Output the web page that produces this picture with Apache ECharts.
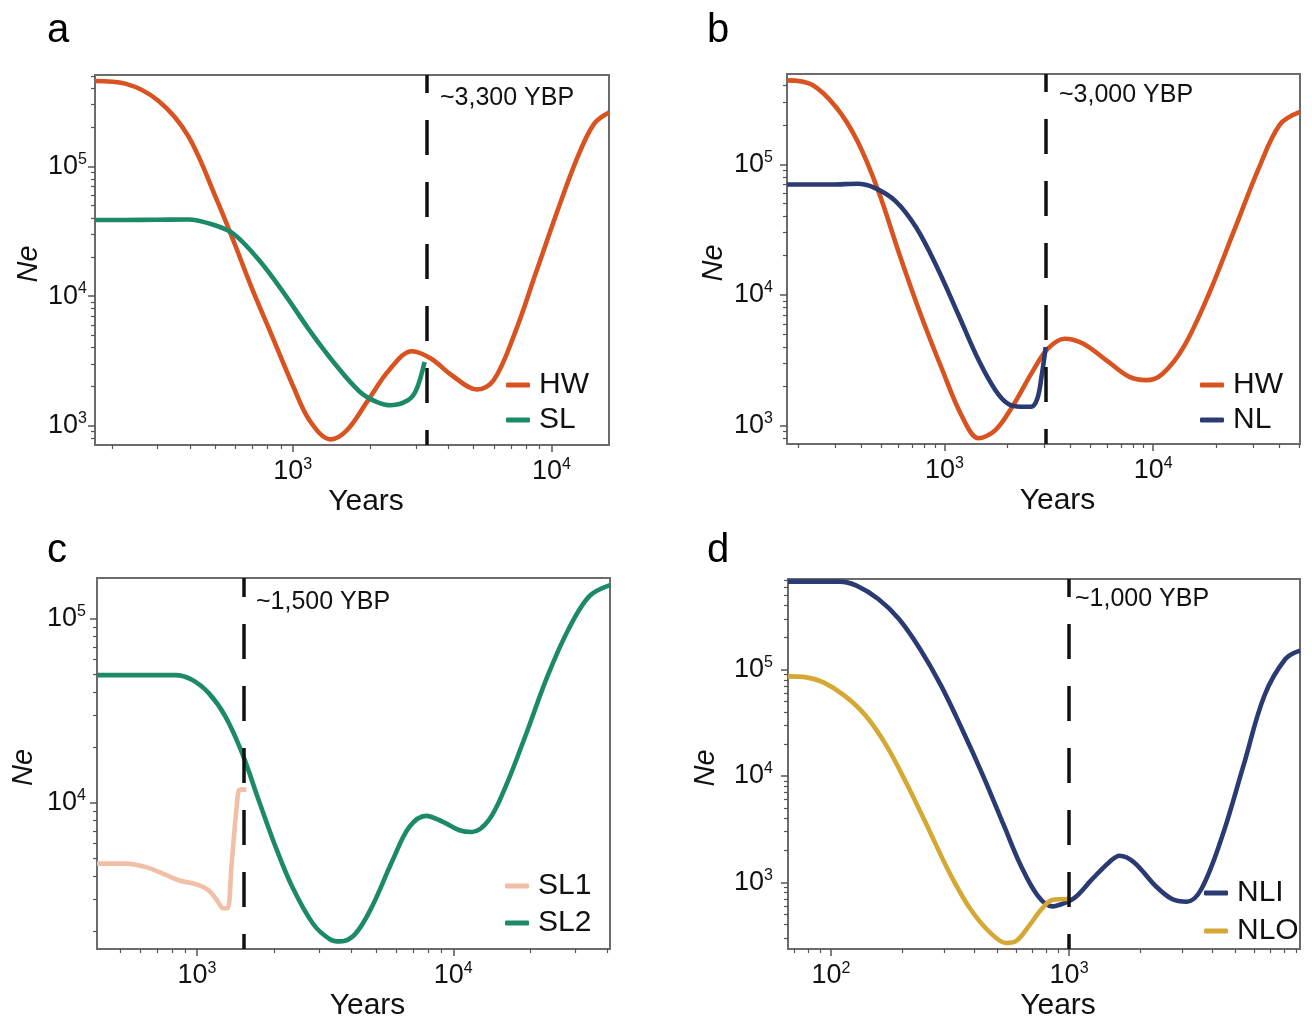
<!DOCTYPE html>
<html>
<head>
<meta charset="utf-8">
<script src="https://cdn.jsdelivr.net/npm/echarts@6/dist/echarts.min.js"></script>
<style>
  html, body { margin: 0; padding: 0; background: #fff; }
  #chart { width: 1312px; height: 1022px; }
</style>
</head>
<body>
<div id="chart"></div>
<script>
// [years, Ne]
const hwA = [[172, 4.56e5], [225, 4.35e5], [303, 3.2e5], [394, 1.72e5], [511, 5.4e4], [593, 2.6e4],
  [689, 1.2e4], [829, 5000], [1000, 2050], [1161, 1100], [1400, 785], [1623, 927], [1954, 1570],
  [2356, 2680], [2891, 3750], [3420, 3300], [4120, 2450], [5155, 1900], [5980, 2240], [7210, 5130],
  [8690, 1.49e4], [10450, 4.3e4], [12600, 1.17e5], [14600, 2.12e5], [16700, 2.6e5]]
const slA = [[172, 3.86e4], [225, 3.86e4], [300, 3.88e4], [394, 3.9e4], [493, 3.55e4], [593, 3.0e4],
  [743, 1.88e4], [929, 1.04e4], [1161, 5440], [1452, 3020], [1816, 1830], [2107, 1530], [2400, 1440],
  [2786, 1570], [3000, 1880], [3234, 3100]]

const hwB = [[176, 4.4e5], [231, 4.08e5], [304, 2.71e5], [383, 1.5e5], [482, 6.25e4], [608, 2.05e4],
  [766, 7200], [964, 2800], [1214, 1170], [1459, 797], [1754, 920], [2113, 1390], [2661, 2640],
  [3127, 3870], [3760, 4610], [4627, 4220], [6104, 3060], [7690, 2350], [9250, 2220], [11100, 2490],
  [14000, 3990], [18500, 1.02e4], [24400, 3.1e4], [32100, 9.4e4], [40500, 2.02e5], [50500, 2.52e5]]
const nlB = [[176, 7.0e4], [290, 7.0e4], [383, 7.1e4], [460, 6.63e4], [581, 5.25e4], [731, 3.29e4],
  [921, 1.63e4], [1159, 7200], [1459, 3150], [1754, 1860], [2018, 1460], [2317, 1390], [2600, 1390],
  [2786, 1610], [2917, 2360], [3055, 3990]]

const sl1C = [[407, 4680], [524, 4680], [632, 4480], [763, 4040], [854, 3790], [993, 3610], [1111, 3350],
  [1198, 2950], [1267, 2680], [1315, 2680], [1365, 4680], [1445, 1.12e4], [1472, 1.18e4], [1557, 1.18e4]]
const sl2C = [[407, 4.93e4], [822, 4.93e4], [955, 4.66e4], [1111, 3.94e4], [1291, 2.94e4], [1500, 1.86e4],
  [1742, 1.03e4], [2027, 5760], [2355, 3490], [2840, 2200], [3300, 1820], [3628, 1770], [4140, 1940],
  [4810, 2720], [5800, 4880], [6740, 7400], [7830, 8500], [9110, 7890], [10580, 7100], [11830, 6950],
  [13760, 8050], [15990, 1.22e4], [19280, 2.38e4], [23300, 4.85e4], [28100, 8.7e4], [33900, 1.32e5],
  [40900, 1.52e5]]

const nliD = [[66, 6.73e5], [109, 6.73e5], [128, 6.17e5], [158, 4.62e5], [193, 3.0e5], [237, 1.56e5],
  [290, 7.08e4], [355, 2.77e4], [435, 1.01e4], [533, 3410], [627, 1440], [738, 750], [850, 594],
  [960, 640], [1062, 723], [1250, 1070], [1471, 1540], [1630, 1780], [1877, 1540], [2300, 931],
  [2706, 697], [3119, 657], [3595, 865], [4406, 2750], [5400, 1.25e4], [6610, 5.69e4], [8100, 1.26e5],
  [9330, 1.51e5]]
const nloD = [[66, 8.65e4], [79, 8.47e4], [93, 7.6e4], [114, 5.7e4], [140, 3.69e4], [171, 1.93e4],
  [210, 8100], [257, 3180], [314, 1240], [385, 561], [472, 327], [544, 269], [602, 282], [680, 391],
  [767, 561], [850, 682], [1000, 697]]

const panelLetters = ['a', 'b', 'c', 'd']
const splitYears = [3300, 3050, 1528, 1000]
const splitLabels = ['~3,300 YBP', '~3,000 YBP', '~1,500 YBP', '~1,000 YBP']
const xRanges = [[172, 16700], [176, 50500], [407, 40900], [66, 9330]]
const yRanges = [[710, 5.07e5], [720, 4.92e5], [1610, 1.66e5], [236, 7.13e5]]

const FONT = '"Liberation Sans", Arial, sans-serif'
const colors = {
  HW: '#d8531f', SL: '#1c8a68', NL: '#2a3a72',
  SL1: '#f1bea6', SL2: '#1c8a68', NLI: '#2a3a72', NLO: '#d5a733'
}

const panels = [
  { grid: { left: 95, top: 75, width: 514, height: 370 }, lines: [['HW', hwA], ['SL', slA]],
    labelMargin: 8, neGap: 52, yearsGap: 37, text: [440, 101], letter: [47, 34],
    legend: { left: 506, top: 369, gap: 3 } },
  { grid: { left: 787, top: 74, width: 513, height: 370 }, lines: [['HW', hwB], ['NL', nlB]],
    labelMargin: 14, neGap: 59, yearsGap: 37, text: [1059, 98], letter: [707, 34],
    legend: { left: 1200, top: 369, gap: 3 } },
  { grid: { left: 97, top: 578, width: 513, height: 371 }, lines: [['SL1', sl1C], ['SL2', sl2C]],
    labelMargin: 11, neGap: 59, yearsGap: 41, text: [256, 605], letter: [47, 554],
    legend: { left: 505, top: 870, gap: 5 } },
  { grid: { left: 788, top: 579, width: 512, height: 370 }, lines: [['NLI', nliD], ['NLO', nloD]],
    labelMargin: 15, neGap: 68, yearsGap: 41, text: [1075, 602], letter: [707, 554],
    legend: { left: 1204, top: 877, gap: 6 } }
]

const majorTicks = (lo, hi) => {
  const out = []
  for (let e = Math.floor(Math.log10(lo)); e <= Math.ceil(Math.log10(hi)); e++) {
    const v = Math.pow(10, e)
    if (v >= lo && v <= hi) out.push(v)
  }
  return out
}
const minorTicks = (lo, hi) => {
  const out = []
  for (let e = Math.floor(Math.log10(lo)); e <= Math.ceil(Math.log10(hi)); e++) {
    for (let m = 2; m <= 9; m++) {
      const v = m * Math.pow(10, e)
      if (v > lo && v < hi) out.push(v)
    }
  }
  return out
}

const powLabel = (v) => '{b|10}{sup|' + Math.round(Math.log10(v)) + '}'
const labelRich = {
  b: { fontSize: 27, lineHeight: 30, color: '#111', fontFamily: FONT },
  sup: { fontSize: 16, lineHeight: 23, verticalAlign: 'top', color: '#111', fontFamily: FONT }
}
const tickColor = '#555'

const grids = [], xAxes = [], yAxes = [], series = [], legends = [], graphics = []

panels.forEach((p, i) => {
  const [x0, x1] = xRanges[i]
  const [y0, y1] = yRanges[i]
  grids.push(Object.assign({ show: true, borderColor: '#6b6b6b', borderWidth: 2,
    backgroundColor: 'transparent' }, p.grid))

  // major ticks + labels
  xAxes.push({
    type: 'log', gridIndex: i, min: x0, max: x1, position: 'bottom',
    axisLine: { show: false }, splitLine: { show: false },
    axisTick: { show: true, length: 7, customValues: majorTicks(x0, x1),
      lineStyle: { color: tickColor, width: 1.5 } },
    axisLabel: { customValues: majorTicks(x0, x1), formatter: powLabel, rich: labelRich, margin: 12 },
    name: 'Years', nameLocation: 'middle', nameGap: p.yearsGap,
    nameTextStyle: { fontSize: 30, color: '#111', fontFamily: FONT, padding: [0, 0, 0, 28] }
  })
  // minor ticks
  xAxes.push({
    type: 'log', gridIndex: i, min: x0, max: x1, position: 'bottom',
    axisLine: { show: false }, splitLine: { show: false },
    axisTick: { show: true, length: 4, customValues: minorTicks(x0, x1),
      lineStyle: { color: tickColor, width: 1.2 } },
    axisLabel: { show: false }
  })
  yAxes.push({
    type: 'log', gridIndex: i, min: y0, max: y1, position: 'left',
    axisLine: { show: false }, splitLine: { show: false },
    axisTick: { show: true, length: 7, customValues: majorTicks(y0, y1),
      lineStyle: { color: tickColor, width: 1.5 } },
    axisLabel: { customValues: majorTicks(y0, y1), formatter: powLabel, rich: labelRich,
      margin: p.labelMargin },
    name: 'Ne', nameLocation: 'middle', nameGap: p.neGap,
    nameTextStyle: { fontSize: 29, fontStyle: 'italic', color: '#111', fontFamily: FONT,
      padding: [0, 8, 0, 0] }
  })
  yAxes.push({
    type: 'log', gridIndex: i, min: y0, max: y1, position: 'left',
    axisLine: { show: false }, splitLine: { show: false },
    axisTick: { show: true, length: 4, customValues: minorTicks(y0, y1),
      lineStyle: { color: tickColor, width: 1.2 } },
    axisLabel: { show: false }
  })

  p.lines.forEach(([name, data], k) => {
    const s = {
      name, type: 'line', xAxisIndex: 2 * i, yAxisIndex: 2 * i, data,
      showSymbol: false, smooth: 0.35,
      lineStyle: { width: 4.6, color: colors[name] }, itemStyle: { color: colors[name] },
      z: 3 + k
    }
    if (k === 0) {
      s.markLine = {
        silent: true, symbol: ['none', 'none'], label: { show: false },
        lineStyle: { type: [35, 27], dashOffset: 20, color: '#111', width: 3.5 },
        data: [{ xAxis: splitYears[i] }], z: 10
      }
    }
    series.push(s)
  })

  legends.push({
    data: p.lines.map(l => l[0]), orient: 'vertical', left: p.legend.left, top: p.legend.top,
    padding: 0, itemGap: p.legend.gap, itemWidth: 24, itemHeight: 5, icon: 'roundRect',
    selectedMode: false,
    textStyle: { fontSize: 30, lineHeight: 32, color: '#111', fontFamily: FONT, padding: [0, 0, 0, 4] }
  })

  graphics.push({
    type: 'text', left: p.text[0], top: p.text[1] - 15,
    style: { text: splitLabels[i], font: '25px ' + FONT, fill: '#111' }
  })
  graphics.push({
    type: 'text', left: p.letter[0], top: p.letter[1] - 23,
    style: { text: panelLetters[i], font: '40px ' + FONT, fill: '#000' }
  })
})

const chart = echarts.init(document.getElementById('chart'))
chart.setOption({
  animation: false,
  backgroundColor: '#fff',
  grid: grids,
  xAxis: xAxes,
  yAxis: yAxes,
  legend: legends,
  series: series,
  graphic: graphics
})
</script>
</body>
</html>
